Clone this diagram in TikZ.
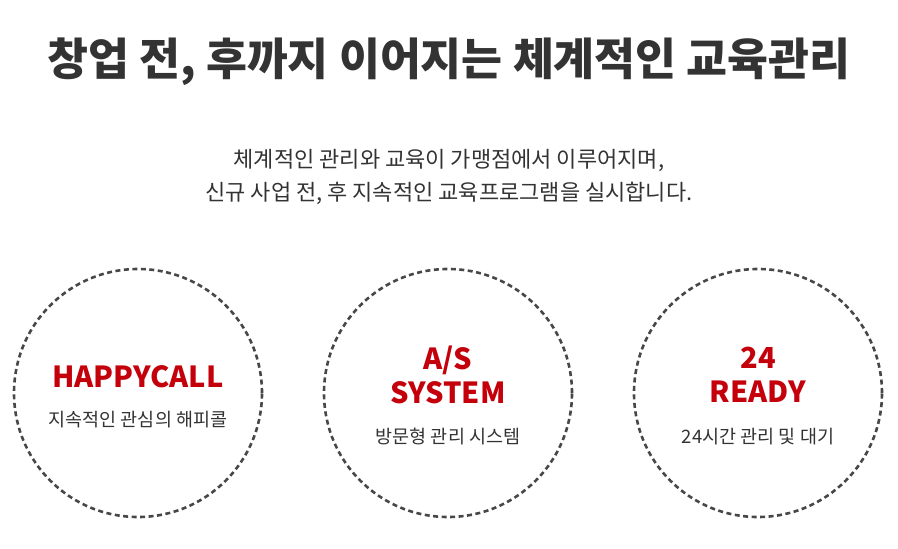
\documentclass[tikz,border=0pt]{standalone}
\usepackage{fontspec}
\setmainfont{Noto Sans CJK KR}
\definecolor{redx}{HTML}{C4000B}
\definecolor{txt}{HTML}{333333}
\tikzset{circ/.style={draw=txt!90,line width=2.6pt,dash pattern=on 5pt off 3.5pt,circle,minimum size=248pt},
 big/.style={text=redx,font=\fontsize{29}{34}\selectfont\bfseries,align=center},
 small/.style={text=txt,font=\fontsize{18.5}{20}\selectfont}}
\begin{document}
\begin{tikzpicture}[x=1pt,y=-1pt]
\useasboundingbox (0,0) rectangle (898,549);
\node[text=txt,font=\fontsize{44.5}{48}\selectfont\bfseries] (title) at (449,62) {창업 전, 후까지 이어지는 체계적인 교육관리};
\node[text=txt,font=\fontsize{22}{33}\selectfont,align=center] (sub) at (449,177) {체계적인 관리와 교육이 가맹점에서 이루어지며,\\신규 사업 전, 후 지속적인 교육프로그램을 실시합니다.};
\node[circ] (c1) at (138,393) {};
\node[circ] (c2) at (448,393) {};
\node[circ] (c3) at (758,393) {};
\node[big] (h1) at (138,377) {HAPPYCALL};
\node[small] (s1) at (138,420) {지속적인 관심의 해피콜};
\node[big] (h2) at (448,375) {A/S\\SYSTEM};
\node[small] (s2) at (448,437) {방문형 관리 시스템};
\node[big] (h3) at (758,375) {24\\READY};
\node[small] (s3) at (758,437) {24시간 관리 및 대기};
\end{tikzpicture}
\end{document}
